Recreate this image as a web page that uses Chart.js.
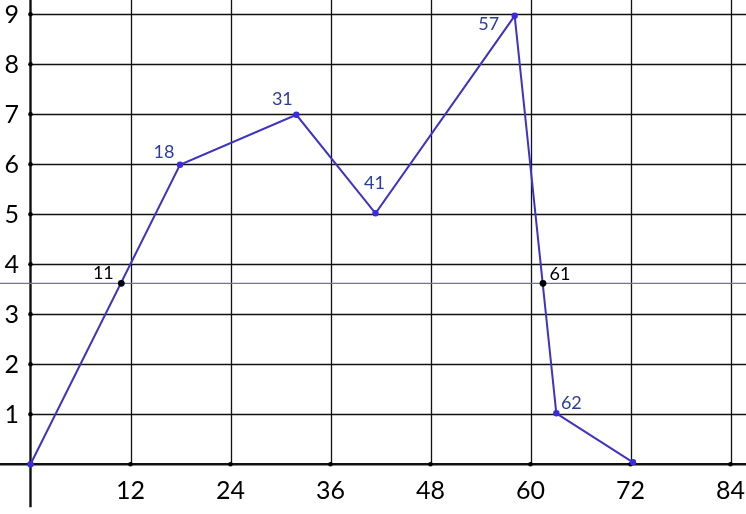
<!DOCTYPE html>
<html>
<head>
<meta charset="utf-8">
<script src="https://cdn.jsdelivr.net/npm/chart.js@4/dist/chart.umd.min.js"></script>
<style>
  html, body { margin: 0; padding: 0; background: #ffffff; }
  #wrap { width: 746px; height: 514px; }
</style>
</head>
<body>
<div id="wrap"><canvas id="c" width="746" height="514"></canvas></div>
<script>
// ---- data ----
const lineX   = [0, 17.94, 31.9, 41.4, 58.1, 63.1, 72.3];
const lineY   = [0, 5.99, 6.99, 5.02, 8.97, 1.02, 0.04];
const lineLabels = ['', '18', '31', '41', '57', '62', ''];
const markX   = [10.9, 61.5];
const markY   = [3.62, 3.62];
const markLabels = ['11', '61'];
const levelY  = 3.62;
const xTicks  = [12, 24, 36, 48, 60, 72, 84];
const yTicks  = [1, 2, 3, 4, 5, 6, 7, 8, 9];

// label offsets (pixels) relative to each point
const lineLabelOffsets = [[0,0],[-16,-13],[-14,-16],[-1,-30],[-26,8],[15,-10],[0,0]];
const markLabelOffsets = [[-18,-10],[17,-9]];

const X_MIN = -3.66, X_MAX = 85.86, Y_MIN = -0.994, Y_MAX = 9.286;
const FONT = 'Lato, "Open Sans", sans-serif';

const mainPts = lineX.map((x, i) => ({x, y: lineY[i]}));
const markPts = markX.map((x, i) => ({x, y: markY[i]}));
const levelPts = [{x: X_MIN, y: levelY}, {x: X_MAX, y: levelY}];

const gridPlugin = {
  id: 'gridPlugin',
  beforeDatasetsDraw(chart) {
    const ctx = chart.ctx;
    const xs = chart.scales.x, ys = chart.scales.y;
    const x0 = xs.getPixelForValue(0), y0 = ys.getPixelForValue(0);
    const W = chart.width;
    ctx.save();
    // grid
    ctx.strokeStyle = '#111';
    ctx.lineWidth = 1.3;
    xTicks.forEach(v => {
      const px = Math.round(xs.getPixelForValue(v)) + 0.5;
      ctx.beginPath(); ctx.moveTo(px, 0); ctx.lineTo(px, y0); ctx.stroke();
    });
    yTicks.forEach(v => {
      const py = Math.round(ys.getPixelForValue(v)) + 0.5;
      ctx.beginPath(); ctx.moveTo(x0, py); ctx.lineTo(W, py); ctx.stroke();
    });
    // axes
    ctx.lineWidth = 2.4;
    ctx.beginPath(); ctx.moveTo(0, y0); ctx.lineTo(W, y0); ctx.stroke();
    ctx.beginPath(); ctx.moveTo(x0, 0); ctx.lineTo(x0, ys.getPixelForValue(-0.86)); ctx.stroke();
    // tick dots
    ctx.fillStyle = '#000';
    xTicks.forEach(v => {
      ctx.beginPath(); ctx.arc(xs.getPixelForValue(v), y0, 2.3, 0, Math.PI * 2); ctx.fill();
    });
    yTicks.forEach(v => {
      ctx.beginPath(); ctx.arc(x0, ys.getPixelForValue(v), 2.3, 0, Math.PI * 2); ctx.fill();
    });
    // tick labels
    ctx.font = '25px ' + FONT;
    ctx.fillStyle = '#000';
    ctx.textAlign = 'right';
    ctx.textBaseline = 'middle';
    yTicks.forEach(v => {
      ctx.fillText(String(v), 19, ys.getPixelForValue(v) + 1);
    });
    ctx.textAlign = 'center';
    xTicks.forEach(v => {
      ctx.fillText(String(v), xs.getPixelForValue(v), 491);
    });
    ctx.restore();
  },
  afterDatasetsDraw(chart) {
    const ctx = chart.ctx;
    const xs = chart.scales.x, ys = chart.scales.y;
    ctx.save();
    ctx.font = '18px ' + FONT;
    ctx.textAlign = 'center';
    ctx.textBaseline = 'middle';
    ctx.fillStyle = '#2b3c9c';
    mainPts.forEach((p, i) => {
      if (!lineLabels[i]) return;
      const o = lineLabelOffsets[i];
      ctx.fillText(lineLabels[i], xs.getPixelForValue(p.x) + o[0], ys.getPixelForValue(p.y) + o[1]);
    });
    ctx.fillStyle = '#000';
    markPts.forEach((p, i) => {
      const o = markLabelOffsets[i];
      ctx.fillText(markLabels[i], xs.getPixelForValue(p.x) + o[0], ys.getPixelForValue(p.y) + o[1]);
    });
    ctx.restore();
  }
};

new Chart(document.getElementById('c'), {
  type: 'scatter',
  data: {
    datasets: [
      {
        data: levelPts, showLine: true, borderColor: '#6e70b8', borderWidth: 1.2,
        pointRadius: 0, order: 3
      },
      {
        data: mainPts, showLine: true, borderColor: '#3f33c4', borderWidth: 2,
        pointRadius: 3.2, pointBackgroundColor: '#3a2bdc', pointBorderColor: '#3a2bdc',
        pointBorderWidth: 0, order: 2
      },
      {
        data: markPts, showLine: false, pointRadius: 3.4,
        pointBackgroundColor: '#000', pointBorderColor: '#000', pointBorderWidth: 0, order: 1
      }
    ]
  },
  options: {
    responsive: false,
    animation: false,
    layout: { padding: 0, autoPadding: false },
    plugins: { legend: { display: false }, tooltip: { enabled: false } },
    scales: {
      x: { type: 'linear', min: X_MIN, max: X_MAX, display: false },
      y: { type: 'linear', min: Y_MIN, max: Y_MAX, display: false }
    }
  },
  plugins: [gridPlugin]
});
</script>
</body>
</html>
